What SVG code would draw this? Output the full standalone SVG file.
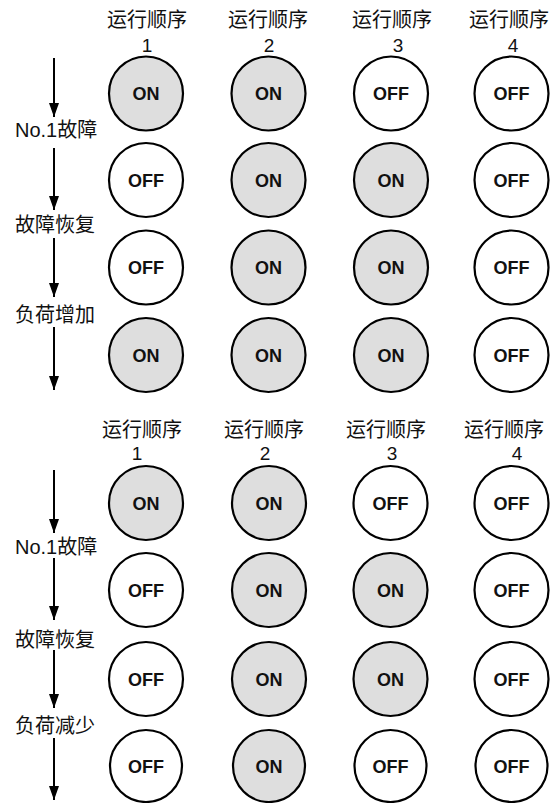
<svg xmlns="http://www.w3.org/2000/svg" width="557" height="803" viewBox="0 0 557 803">
<defs>
<style>
.c{stroke:#000;stroke-width:2.2;}
.on{fill:#dedede;}
.off{fill:#fff;}
.t{font-family:"Liberation Sans",Arial,sans-serif;font-weight:bold;font-size:18px;fill:#111;text-anchor:middle;}
.h{font-family:"Liberation Sans","Noto Sans CJK SC",sans-serif;font-size:20px;fill:#111;text-anchor:middle;}
.n{font-family:"Liberation Sans",sans-serif;font-size:19px;fill:#111;text-anchor:middle;}
.l{font-family:"Liberation Sans","Noto Sans CJK SC",sans-serif;font-size:20px;fill:#111;}
.a{stroke:#000;stroke-width:2;fill:none;}
</style>
<marker id="ah" viewBox="0 0 14 10" refX="14" refY="5" markerWidth="14" markerHeight="10" markerUnits="userSpaceOnUse" orient="auto">
<path d="M0,0 L14,5 L0,10 Z" fill="#000"/>
</marker>
</defs>
<rect width="557" height="803" fill="#fff"/>

<g id="headers-top">
<text class="h" x="147" y="27">运行顺序</text>
<text class="h" x="268" y="27">运行顺序</text>
<text class="h" x="392" y="27">运行顺序</text>
<text class="h" x="509" y="27">运行顺序</text>
<text class="n" x="147" y="52">1</text>
<text class="n" x="269" y="52">2</text>
<text class="n" x="398" y="52">3</text>
<text class="n" x="513" y="52">4</text>
</g>

<g id="labels-top">
<text class="l" x="15" y="137">No.1故障</text>
<text class="l" x="15" y="232">故障恢复</text>
<text class="l" x="15" y="322">负荷增加</text>
</g>

<g id="connectors">
<path class="a" d="M54,58 V117" marker-end="url(#ah)"/>
<path class="a" d="M54,148 V210" marker-end="url(#ah)"/>
<path class="a" d="M54,238 V297" marker-end="url(#ah)"/>
<path class="a" d="M54,327 V390" marker-end="url(#ah)"/>
<path class="a" d="M54,470 V533" marker-end="url(#ah)"/>
<path class="a" d="M54,558 V620" marker-end="url(#ah)"/>
<path class="a" d="M54,650 V708" marker-end="url(#ah)"/>
<path class="a" d="M54,738 V800" marker-end="url(#ah)"/>
</g>

<g id="t-r1c1"><circle class="c on" cx="146" cy="93.5" r="37"/><text class="t" x="146" y="100">ON</text></g>
<g id="t-r1c2"><circle class="c on" cx="268.5" cy="93.5" r="37"/><text class="t" x="268.5" y="100">ON</text></g>
<g id="t-r1c3"><circle class="c off" cx="391" cy="93.5" r="37"/><text class="t" x="391" y="100">OFF</text></g>
<g id="t-r1c4"><circle class="c off" cx="511.5" cy="93.5" r="37"/><text class="t" x="511.5" y="100">OFF</text></g>

<g id="t-r2c1"><circle class="c off" cx="146" cy="180" r="37"/><text class="t" x="146" y="186.5">OFF</text></g>
<g id="t-r2c2"><circle class="c on" cx="268.5" cy="180" r="37"/><text class="t" x="268.5" y="186.5">ON</text></g>
<g id="t-r2c3"><circle class="c on" cx="391" cy="180" r="37"/><text class="t" x="391" y="186.5">ON</text></g>
<g id="t-r2c4"><circle class="c off" cx="511.5" cy="180" r="37"/><text class="t" x="511.5" y="186.5">OFF</text></g>

<g id="t-r3c1"><circle class="c off" cx="146" cy="267.5" r="37"/><text class="t" x="146" y="274">OFF</text></g>
<g id="t-r3c2"><circle class="c on" cx="268.5" cy="267.5" r="37"/><text class="t" x="268.5" y="274">ON</text></g>
<g id="t-r3c3"><circle class="c on" cx="391" cy="267.5" r="37"/><text class="t" x="391" y="274">ON</text></g>
<g id="t-r3c4"><circle class="c off" cx="511.5" cy="267.5" r="37"/><text class="t" x="511.5" y="274">OFF</text></g>

<g id="t-r4c1"><circle class="c on" cx="146" cy="355" r="37"/><text class="t" x="146" y="361.5">ON</text></g>
<g id="t-r4c2"><circle class="c on" cx="268.5" cy="355" r="37"/><text class="t" x="268.5" y="361.5">ON</text></g>
<g id="t-r4c3"><circle class="c on" cx="391" cy="355" r="37"/><text class="t" x="391" y="361.5">ON</text></g>
<g id="t-r4c4"><circle class="c off" cx="511.5" cy="355" r="37"/><text class="t" x="511.5" y="361.5">OFF</text></g>

<g id="headers-bottom">
<text class="h" x="142" y="437">运行顺序</text>
<text class="h" x="264" y="437">运行顺序</text>
<text class="h" x="386" y="437">运行顺序</text>
<text class="h" x="504" y="437">运行顺序</text>
<text class="n" x="137" y="460">1</text>
<text class="n" x="265" y="460">2</text>
<text class="n" x="392" y="460">3</text>
<text class="n" x="517" y="460">4</text>
</g>

<g id="labels-bottom">
<text class="l" x="15" y="554">No.1故障</text>
<text class="l" x="15" y="647">故障恢复</text>
<text class="l" x="15" y="733">负荷减少</text>
</g>

<g id="b-r1c1"><circle class="c on" cx="146" cy="503" r="37"/><text class="t" x="146" y="509.5">ON</text></g>
<g id="b-r1c2"><circle class="c on" cx="269" cy="503" r="37"/><text class="t" x="269" y="509.5">ON</text></g>
<g id="b-r1c3"><circle class="c off" cx="390.5" cy="503" r="37"/><text class="t" x="390.5" y="509.5">OFF</text></g>
<g id="b-r1c4"><circle class="c off" cx="511.5" cy="503" r="37"/><text class="t" x="511.5" y="509.5">OFF</text></g>

<g id="b-r2c1"><circle class="c off" cx="146" cy="590" r="37"/><text class="t" x="146" y="596.5">OFF</text></g>
<g id="b-r2c2"><circle class="c on" cx="269" cy="590" r="37"/><text class="t" x="269" y="596.5">ON</text></g>
<g id="b-r2c3"><circle class="c on" cx="390.5" cy="590" r="37"/><text class="t" x="390.5" y="596.5">ON</text></g>
<g id="b-r2c4"><circle class="c off" cx="511.5" cy="590" r="37"/><text class="t" x="511.5" y="596.5">OFF</text></g>

<g id="b-r3c1"><circle class="c off" cx="146" cy="679" r="37"/><text class="t" x="146" y="685.5">OFF</text></g>
<g id="b-r3c2"><circle class="c on" cx="269" cy="679" r="37"/><text class="t" x="269" y="685.5">ON</text></g>
<g id="b-r3c3"><circle class="c on" cx="390.5" cy="679" r="37"/><text class="t" x="390.5" y="685.5">ON</text></g>
<g id="b-r3c4"><circle class="c off" cx="511.5" cy="679" r="37"/><text class="t" x="511.5" y="685.5">OFF</text></g>

<g id="b-r4c1"><circle class="c off" cx="146" cy="766" r="36"/><text class="t" x="146" y="772.5">OFF</text></g>
<g id="b-r4c2"><circle class="c on" cx="269" cy="766" r="36"/><text class="t" x="269" y="772.5">ON</text></g>
<g id="b-r4c3"><circle class="c off" cx="390.5" cy="766" r="36"/><text class="t" x="390.5" y="772.5">OFF</text></g>
<g id="b-r4c4"><circle class="c off" cx="511.5" cy="766" r="36"/><text class="t" x="511.5" y="772.5">OFF</text></g>
</svg>
